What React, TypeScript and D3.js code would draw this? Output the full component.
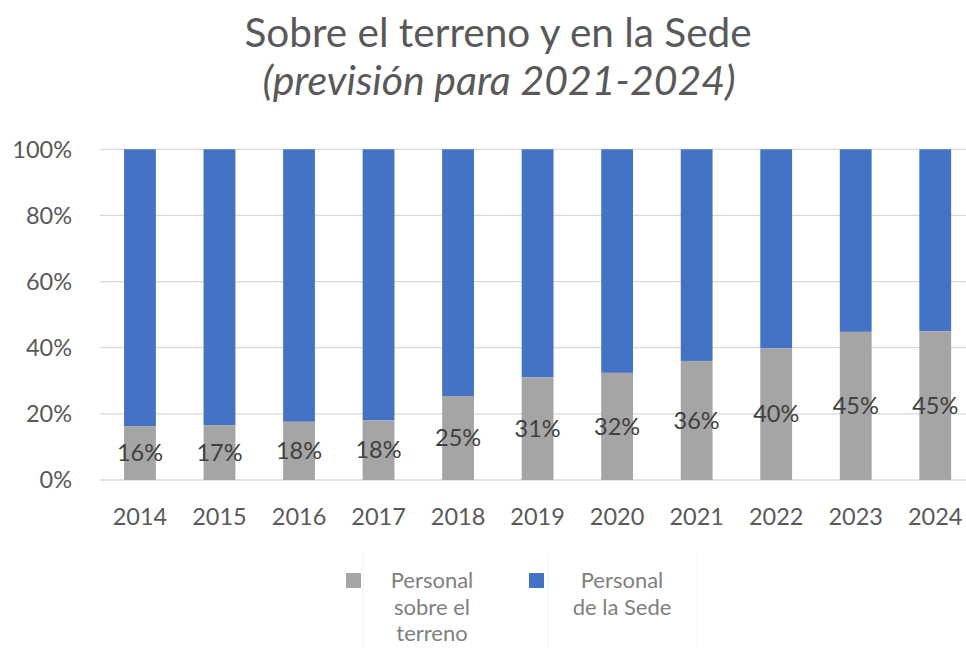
import React from "react";
import * as d3 from "d3";

const years = ["2014", "2015", "2016", "2017", "2018", "2019", "2020", "2021", "2022", "2023", "2024"];
const fieldShare = [16.3, 16.6, 17.6, 18.0, 25.4, 31.0, 32.4, 36.0, 39.8, 44.8, 45.0];
const yTicks = [0, 20, 40, 60, 80, 100];
const seriesNames = ["Personal sobre el terreno", "Personal de la Sede"];
const legendLines = [["Personal", "sobre el", "terreno"], ["Personal", "de la Sede"]];
const title = "Sobre el terreno y en la Sede";
const subtitle = "(previsión para 2021-2024)";

const W = 966;
const H = 648;
const FONT = "Lato, 'Open Sans', sans-serif";
const GRAY = "#A5A5A5";
const BLUE = "#4472C4";
const TEXT = "#595959";

export default function App() {
  const x = d3.scaleBand<string>().domain(years).range([100.2, 975]).paddingInner(0.6).paddingOuter(0.3);
  const y = d3.scaleLinear().domain([0, 100]).range([480, 149.3]);
  const bw = x.bandwidth();
  const fmt = (v: number) => `${Math.round(v)}%`;
  const colors = [GRAY, BLUE];
  const legendX = [432, 622];
  const swatchX = [346, 529];

  return (
    <svg width={W} height={H} style={{ position: "absolute", left: 0, top: 0, background: "#fff" }} fontFamily={FONT}>
      <text x={498} y={46.5} textAnchor="middle" fontSize={40.5} fill={TEXT}>{title}</text>
      <text x={499} y={94.5} textAnchor="middle" fontSize={41} fontStyle="italic" fill={TEXT}>{subtitle}</text>

      {yTicks.map((t) => (
        <g key={t}>
          <line x1={100} x2={W} y1={y(t)} y2={y(t)} stroke="#D9D9D9" strokeWidth={1.3} />
          <text x={72} y={y(t)} dy="0.35em" textAnchor="end" fontSize={23.5} fill={TEXT}>{`${t}%`}</text>
        </g>
      ))}

      {years.map((yr, i) => {
        const x0 = x(yr)!;
        const v = fieldShare[i];
        return (
          <g key={yr}>
            <rect x={x0} width={bw} y={y(100)} height={y(v) - y(100)} fill={BLUE} />
            <rect x={x0} width={bw} y={y(v)} height={y(0) - y(v)} fill={GRAY} />
            <text x={x0 + bw / 2} y={(y(v) + y(0)) / 2} dy="0.35em" textAnchor="middle" fontSize={23.5} fill="#404040">{fmt(v)}</text>
            <text x={x0 + bw / 2} y={525} textAnchor="middle" fontSize={23.5} fill={TEXT}>{yr}</text>
          </g>
        );
      })}

      {[363, 548, 697].map((lx) => (
        <line key={lx} x1={lx} x2={lx} y1={553} y2={H} stroke="#F3F3F3" strokeWidth={1} />
      ))}

      {seriesNames.map((name, i) => (
        <g key={name}>
          <rect x={swatchX[i]} y={573} width={15} height={15} fill={colors[i]} />
          {legendLines[i].map((ln, j) => (
            <text key={j} x={legendX[i]} y={588 + j * 26.5} textAnchor="middle" fontSize={22} fill="#7F7F7F">{ln}</text>
          ))}
        </g>
      ))}
    </svg>
  );
}
